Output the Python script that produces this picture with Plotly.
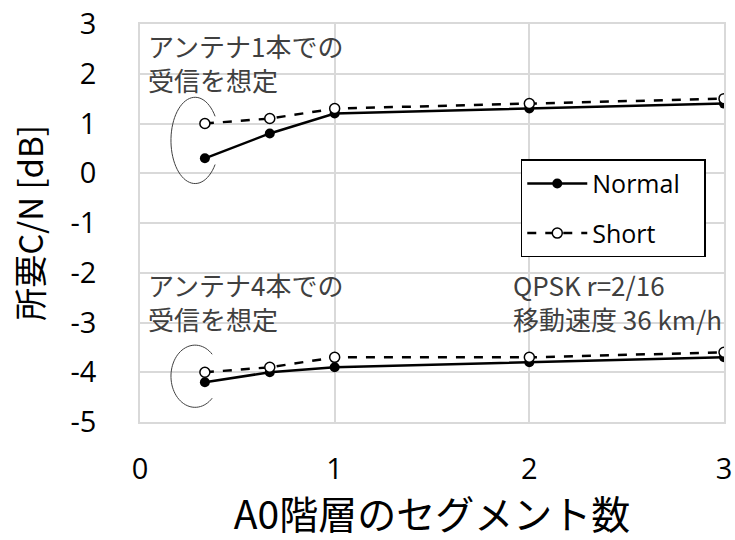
import numpy as np
import plotly.graph_objects as go

# ---- data ----
segments = [1/3, 2/3, 1, 2, 3]
normal_1ant = [0.3, 0.8, 1.2, 1.3, 1.4]
short_1ant = [1.0, 1.1, 1.3, 1.4, 1.5]
normal_4ant = [-4.2, -4.0, -3.9, -3.8, -3.7]
short_4ant = [-4.0, -3.9, -3.7, -3.7, -3.6]
x_ticks = [0, 1, 2, 3]
y_ticks = [3, 2, 1, 0, -1, -2, -3, -4, -5]

FONT_LATIN = "Open Sans, Noto Sans CJK JP"
FONT_JP = "Noto Sans CJK JP"
TXT = "#404040"
NB = "\u00a0"

fig = go.Figure()

def add_pair(normal, short, show):
    fig.add_trace(go.Scatter(
        x=segments, y=normal, mode="lines+markers", name="Normal" + NB * 3,
        legendgroup="n", showlegend=show,
        line=dict(color="black", width=2.5),
        marker=dict(symbol="circle", size=10, color="black"),
    ))
    fig.add_trace(go.Scatter(
        x=segments, y=short, mode="lines+markers", name="Short",
        legendgroup="s", showlegend=show,
        line=dict(color="black", width=2.5, dash="dash"),
        marker=dict(symbol="circle", size=10, color="white",
                    line=dict(color="black", width=1.5)),
    ))

add_pair(normal_1ant, short_1ant, True)
add_pair(normal_4ant, short_4ant, False)

# arc annotations (partial ellipses opening to the right)
def arc_path(cx, cy, rx, ry, a0, a1):
    t = np.radians(np.linspace(a0, a1, 60))
    xs = cx + rx * np.cos(t)
    ys = cy + ry * np.sin(t)
    return "M " + " L ".join(f"{a:.4f},{b:.4f}" for a, b in zip(xs, ys))

fig.add_shape(type="path", xref="x", yref="y",
              path=arc_path(0.283, 0.66, 0.124, 0.867, 34, 326),
              line=dict(color=TXT, width=1))
fig.add_shape(type="path", xref="x", yref="y",
              path=arc_path(0.283, -4.08, 0.124, 0.625, 45, 315),
              line=dict(color=TXT, width=1))

def text_block(x, y, s, anchor, size):
    fig.add_annotation(x=x, y=y, xref="x", yref="y", xanchor=anchor, yanchor="middle",
                       text=s, showarrow=False, align="left",
                       font=dict(family=FONT_JP, size=size, color=TXT))

text_block(0.03, 2.23, "アンテナ1本での<br>受信を想定", "left", 26)
text_block(0.03, -2.57, "アンテナ4本での<br>受信を想定", "left", 26)
text_block(3.0, -2.58, "QPSK r=2/16<br>移動速度 36 km/h", "right", 26)

fig.update_layout(
    width=735, height=540,
    margin=dict(l=140, r=11, t=24, b=118, autoexpand=False),
    paper_bgcolor="white", plot_bgcolor="white",
    font=dict(family=FONT_LATIN, color="black"),
    legend=dict(x=0.652, y=0.66, xanchor="left", yanchor="top",
                bgcolor="white", bordercolor="black", borderwidth=1.5,
                font=dict(family=FONT_LATIN, size=25),
                itemwidth=60, tracegroupgap=14),
    xaxis=dict(range=[0, 3], tickvals=x_ticks, ticktext=[str(v) for v in x_ticks],
               showgrid=True, gridcolor="#d9d9d9", gridwidth=1.5,
               showline=True, linecolor="#d9d9d9", linewidth=1.5, mirror=True,
               zeroline=False, ticks="", tickfont=dict(size=29),
               ticklabelstandoff=20, automargin=False,
               title=dict(text="A0階層のセグメント数", font=dict(family=FONT_JP, size=39),
                          standoff=8)),
    yaxis=dict(range=[-5, 3], tickvals=y_ticks, ticktext=[str(v) for v in y_ticks],
               showgrid=True, gridcolor="#d9d9d9", gridwidth=1.5,
               showline=True, linecolor="#d9d9d9", linewidth=1.5, mirror=True,
               zeroline=False, ticks="", tickfont=dict(size=29),
               ticklabelstandoff=36, automargin=False,
               title=dict(text="所要C/N [dB]", font=dict(family=FONT_JP, size=33),
                          standoff=17)),
)

fig.write_html("out.html", config={"displayModeBar": False},
               post_script="document.body.style.margin='0';")
